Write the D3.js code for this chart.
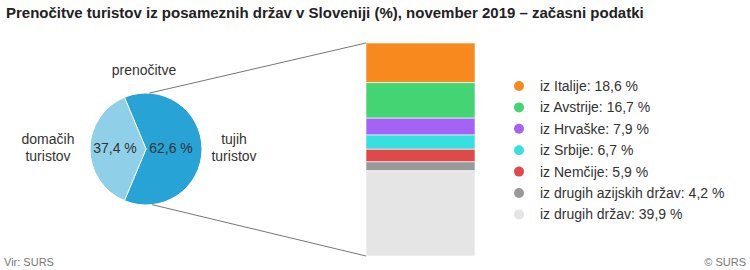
<!DOCTYPE html>
<html>
<head>
<meta charset="utf-8">
<script src="https://cdn.jsdelivr.net/npm/d3@7"></script>
<style>
  body { margin: 0; background: #fff; }
  svg { display: block; font-family: 'Liberation Sans', Arial, sans-serif; }
</style>
</head>
<body>
<svg id="chart" width="750" height="270"></svg>
<script>
var title = 'Prenočitve turistov iz posameznih držav v Sloveniji (%), november 2019 – začasni podatki'

// pie: domestic vs foreign
var pieLabels = [['domačih', 'turistov'], ['tujih', 'turistov']]
var pieValues = [37.4, 62.6]
var pieColors = ['#8fd0e8', '#27a3d6']

// foreign split by country
var countries = ['iz Italije', 'iz Avstrije', 'iz Hrvaške', 'iz Srbije', 'iz Nemčije', 'iz drugih azijskih držav', 'iz drugih držav']
var shares = [18.6, 16.7, 7.9, 6.7, 5.9, 4.2, 39.9]
var shareColors = ['#f7891f', '#45d474', '#a563f6', '#37e0e0', '#e0484a', '#999999', '#e5e5e5']

var locale = d3.formatLocale({ decimal: ',', thousands: '.', grouping: [3], currency: ['', ' €'] })
var fmt = locale.format('.1f')

var svg = d3.select('#chart')

svg.append('text')
  .attr('x', 6).attr('y', 18)
  .style('font-size', '15px').style('font-weight', 'bold').style('fill', '#222')
  .text(title)

// ---- pie
var cx = 146, cy = 149, r = 56
var share = pieValues[1] / 100
var start = Math.PI / 2 - Math.PI * share
var pie = d3.pie().sort(null).startAngle(start).endAngle(start + 2 * Math.PI)
var arcs = pie([pieValues[1], pieValues[0]])
var arc = d3.arc().innerRadius(0).outerRadius(r)

var gp = svg.append('g').attr('transform', 'translate(' + cx + ',' + cy + ')')
gp.selectAll('path')
  .data(arcs)
  .enter()
  .append('path')
  .attr('d', arc)
  .attr('fill', function(d, i) { return i === 0 ? pieColors[1] : pieColors[0] })
  .attr('stroke', '#fff')
  .attr('stroke-width', 1)

// values inside the slices
gp.append('text').attr('x', -31).attr('y', 4)
  .attr('text-anchor', 'middle').style('font-size', '14px').style('fill', '#333')
  .text(fmt(pieValues[0]) + ' %')
gp.append('text').attr('x', 25).attr('y', 4)
  .attr('text-anchor', 'middle').style('font-size', '14px').style('fill', '#333')
  .text(fmt(pieValues[1]) + ' %')

svg.append('text').attr('x', 144).attr('y', 75)
  .attr('text-anchor', 'middle').style('font-size', '14px').style('fill', '#333')
  .text('prenočitve')

var sideX = [48, 234]
pieLabels.forEach(function(lines, i) {
  var t = svg.append('text').attr('text-anchor', 'middle')
    .style('font-size', '14px').style('fill', '#333')
  lines.forEach(function(s, j) {
    t.append('tspan').attr('x', sideX[i]).attr('y', 144 + j * 17).text(s)
  })
})

// ---- stacked bar
var barX0 = 366, barX1 = 475
var y = d3.scaleLinear().domain([0, 100]).range([43, 256])
var acc = 0
var stack = shares.map(function(v) {
  var o = { y0: acc, y1: acc + v }
  acc += v
  return o
})
stack[stack.length - 1].y1 = 100

svg.append('g')
  .selectAll('rect')
  .data(stack)
  .enter()
  .append('rect')
  .attr('x', barX0)
  .attr('width', barX1 - barX0)
  .attr('y', function(d) { return y(d.y0) })
  .attr('height', function(d) { return y(d.y1) - y(d.y0) })
  .attr('fill', function(d, i) { return shareColors[i] })
  .attr('stroke', '#fff')
  .attr('stroke-opacity', 0.6)
  .attr('stroke-width', 1)

// connector lines from pie to bar
var aTop = 0.06, aBot = Math.PI - 0.11
svg.append('line')
  .attr('x1', cx + r * Math.sin(aTop)).attr('y1', cy - r * Math.cos(aTop))
  .attr('x2', barX0).attr('y2', y(0))
  .attr('stroke', '#777').attr('stroke-width', 1)
svg.append('line')
  .attr('x1', cx + r * Math.sin(aBot)).attr('y1', cy - r * Math.cos(aBot))
  .attr('x2', barX0).attr('y2', y(100))
  .attr('stroke', '#777').attr('stroke-width', 1)

// ---- legend
var lg = svg.append('g').attr('transform', 'translate(519,86)')
var item = lg.selectAll('g')
  .data(countries)
  .enter()
  .append('g')
  .attr('transform', function(d, i) { return 'translate(0,' + i * 21.4 + ')' })
item.append('circle').attr('r', 5).attr('fill', function(d, i) { return shareColors[i] })
item.append('text')
  .attr('x', 21).attr('y', 5)
  .style('font-size', '14px').style('fill', '#333')
  .text(function(d, i) { return d + ': ' + fmt(shares[i]) + ' %' })

// ---- footer
svg.append('text').attr('x', 4).attr('y', 266)
  .style('font-size', '11px').style('fill', '#777').text('Vir: SURS')
svg.append('text').attr('x', 746).attr('y', 266).attr('text-anchor', 'end')
  .style('font-size', '11px').style('fill', '#777').text('© SURS')
</script>
</body>
</html>
